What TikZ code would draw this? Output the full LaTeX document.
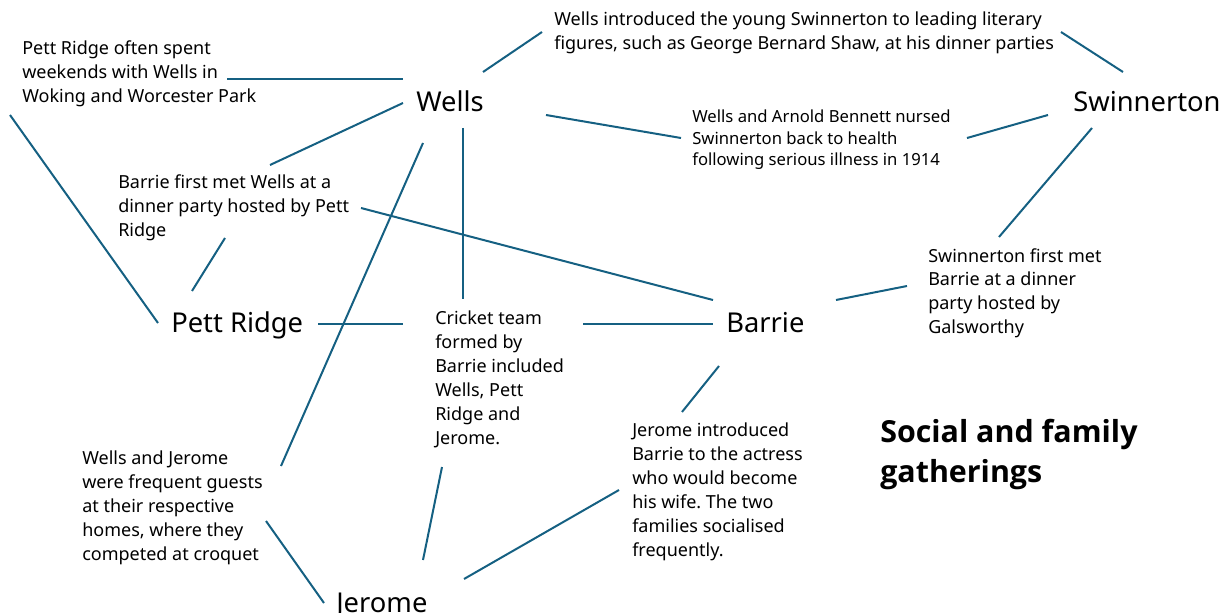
\documentclass[tikz,border=0pt]{standalone}
\usepackage{fontspec}
\setmainfont{Noto Sans}
\newfontfamily\titlefont{Open Sans}
\definecolor{linkblue}{HTML}{156082}
\frenchspacing
\begin{document}
\begin{tikzpicture} %gatherings
		[x=0.75pt,y=-0.75pt,
		 person/.style={anchor=base west,inner sep=0pt,font=\fontsize{20.5}{24}\selectfont},
		 note/.style={anchor=base west,inner sep=0pt,align=left,font=\fontsize{13.5}{18}\selectfont},
		 link/.style={line width=1.5pt,linkblue}]
	\useasboundingbox (0,0) rectangle (1222,613);

	%the people
	\node[person] (wells) at (416,112) {Wells};
	\node[person] (swinnerton) at (1073,112) {Swinnerton};
	\node[person] (pettridge) at (171,333) {Pett Ridge};
	\node[person] (barrie) at (726,333) {Barrie};
	\node[person] (jerome) at (336,612) {Jerome};

	%the notes (placed by the baseline of their last line)
	\node[note] (prnote) at (22,103) {Pett Ridge often spent\\weekends with Wells in\\Woking and Worcester Park};
	\node[note] (intro) at (554,50) {Wells introduced the young Swinnerton to leading literary\\figures, such as George Bernard Shaw, at his dinner parties};
	\node[note,font=\fontsize{12.5}{16.2}\selectfont] (nursed) at (692,166) {Wells and Arnold Bennett nursed\\Swinnerton back to health\\following serious illness in 1914};
	\node[note] (bfnote) at (118,237) {Barrie first met Wells at a\\dinner party hosted by Pett\\Ridge};
	\node[note] (sfnote) at (928,334) {Swinnerton first met\\Barrie at a dinner\\party hosted by\\Galsworthy};
	\node[note] (cricket) at (435,444) {Cricket team\\formed by\\Barrie included\\Wells, Pett\\Ridge and\\Jerome.};
	\node[note] (jinote) at (632,556) {Jerome introduced\\Barrie to the actress\\who would become\\his wife. The two\\families socialised\\frequently.};
	\node[note] (wjnote) at (82,560) {Wells and Jerome\\were frequent guests\\at their respective\\homes, where they\\competed at croquet};
	\node[note,font=\titlefont\fontsize{22.8}{30}\selectfont\bfseries] (title) at (880,482) {Social and family\\gatherings};

	%ends of the links
	\coordinate (prnote-e) at (227,79);   \coordinate (wells-w) at (403,79);
	\coordinate (bfnote-n) at (270,165);  \coordinate (wells-sw) at (403,103);
	\coordinate (prnote-s) at (10,115);   \coordinate (pett-nw) at (158,323);
	\coordinate (pett-n) at (192,291);    \coordinate (bfnote-s) at (225,238);
	\coordinate (bfnote-e) at (361,208);  \coordinate (barrie-nw) at (713,300);
	\coordinate (wells-s) at (423,143);   \coordinate (wjnote-n) at (281,466);
	\coordinate (wells-ss) at (463,128);  \coordinate (cricket-n) at (463,299);
	\coordinate (wells-ne) at (483,72);   \coordinate (intro-w) at (542,32);
	\coordinate (wells-e) at (546,115);   \coordinate (nursed-w) at (681,138);
	\coordinate (intro-e) at (1061,32);   \coordinate (swin-nw) at (1123,72);
	\coordinate (nursed-e) at (967,138);  \coordinate (swin-w) at (1048,115);
	\coordinate (swin-s) at (1092,128);   \coordinate (sfnote-n) at (999,237);
	\coordinate (barrie-e) at (836,300);  \coordinate (sfnote-w) at (907,286);
	\coordinate (pett-e) at (318,324);    \coordinate (cricket-w) at (403,324);
	\coordinate (cricket-e) at (583,324); \coordinate (barrie-w) at (713,324);
	\coordinate (barrie-s) at (719,366);  \coordinate (jinote-n) at (682,412);
	\coordinate (cricket-s) at (442,467); \coordinate (jerome-n) at (423,560);
	\coordinate (jerome-e) at (464,579);  \coordinate (jinote-w) at (619,490);
	\coordinate (wjnote-e) at (266,521);  \coordinate (jerome-w) at (324,603);

	%draw the links
	\draw[link] (prnote-e) -- (wells-w);
	\draw[link] (bfnote-n) -- (wells-sw);
	\draw[link] (prnote-s) -- (pett-nw);
	\draw[link] (pett-n) -- (bfnote-s);
	\draw[link] (bfnote-e) -- (barrie-nw);
	\draw[link] (wells-s) -- (wjnote-n);
	\draw[link] (wells-ss) -- (cricket-n);
	\draw[link] (wells-ne) -- (intro-w);
	\draw[link] (wells-e) -- (nursed-w);
	\draw[link] (intro-e) -- (swin-nw);
	\draw[link] (nursed-e) -- (swin-w);
	\draw[link] (swin-s) -- (sfnote-n);
	\draw[link] (barrie-e) -- (sfnote-w);
	\draw[link] (pett-e) -- (cricket-w);
	\draw[link] (cricket-e) -- (barrie-w);
	\draw[link] (barrie-s) -- (jinote-n);
	\draw[link] (cricket-s) -- (jerome-n);
	\draw[link] (jerome-e) -- (jinote-w);
	\draw[link] (wjnote-e) -- (jerome-w);
\end{tikzpicture}
\end{document}
